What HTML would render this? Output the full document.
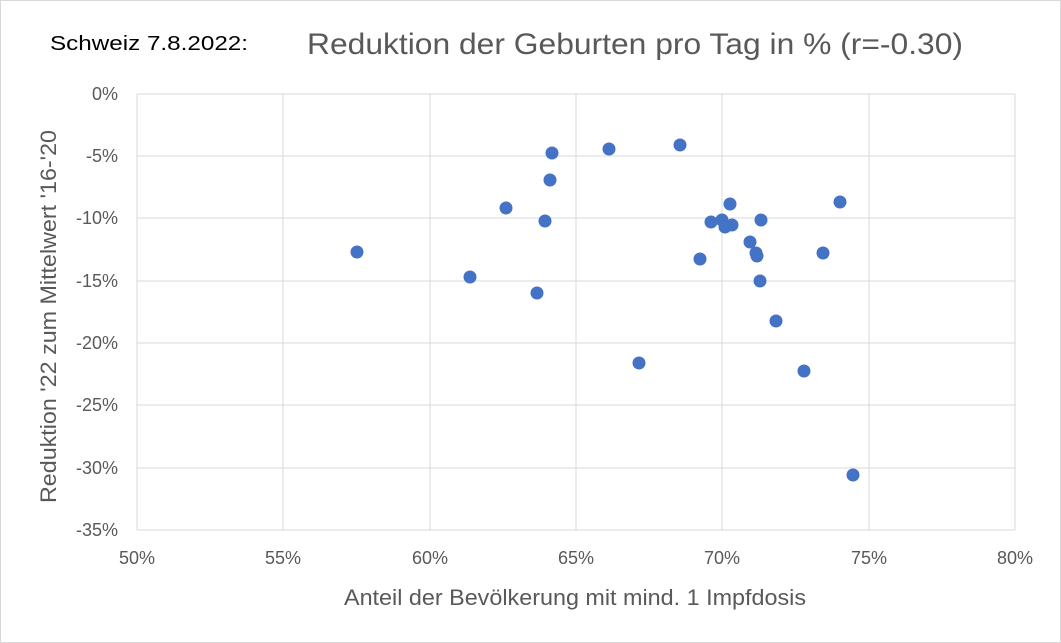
<!DOCTYPE html>
<html><head><meta charset="utf-8"><style>
body{margin:0;background:#fff;}
svg{display:block;font-family:"Liberation Sans",sans-serif;}
</style></head><body>
<svg width="1061" height="643" viewBox="0 0 1061 643">
<rect x="0.5" y="0.5" width="1060" height="642" fill="#fff" stroke="#d9d9d9"/>
<text x="50" y="50" font-size="20" fill="#000" textLength="198" lengthAdjust="spacingAndGlyphs">Schweiz 7.8.2022:</text>
<text x="307" y="54" font-size="30" fill="#595959" textLength="656" lengthAdjust="spacingAndGlyphs">Reduktion der Geburten pro Tag in % (r=-0.30)</text>
<g stroke="#d9d9d9" stroke-width="1">
<line x1="137" y1="94" x2="1015" y2="94"/>
<line x1="137" y1="156" x2="1015" y2="156"/>
<line x1="137" y1="218" x2="1015" y2="218"/>
<line x1="137" y1="281" x2="1015" y2="281"/>
<line x1="137" y1="343" x2="1015" y2="343"/>
<line x1="137" y1="405" x2="1015" y2="405"/>
<line x1="137" y1="468" x2="1015" y2="468"/>
<line x1="137" y1="530" x2="1015" y2="530"/>
<line x1="137" y1="94" x2="137" y2="530"/>
<line x1="283" y1="94" x2="283" y2="530"/>
<line x1="430" y1="94" x2="430" y2="530"/>
<line x1="576" y1="94" x2="576" y2="530"/>
<line x1="722" y1="94" x2="722" y2="530"/>
<line x1="869" y1="94" x2="869" y2="530"/>
<line x1="1015" y1="94" x2="1015" y2="530"/>
</g>
<g font-size="18" fill="#595959" text-anchor="end">
<text x="118" y="100">0%</text>
<text x="118" y="162">-5%</text>
<text x="118" y="224">-10%</text>
<text x="118" y="287">-15%</text>
<text x="118" y="349">-20%</text>
<text x="118" y="411">-25%</text>
<text x="118" y="474">-30%</text>
<text x="118" y="536">-35%</text>
</g>
<g font-size="18" fill="#595959" text-anchor="middle">
<text x="137" y="564">50%</text>
<text x="283" y="564">55%</text>
<text x="430" y="564">60%</text>
<text x="576" y="564">65%</text>
<text x="722" y="564">70%</text>
<text x="869" y="564">75%</text>
<text x="1015" y="564">80%</text>
</g>
<text x="344" y="605" font-size="22" fill="#595959" textLength="462" lengthAdjust="spacingAndGlyphs">Anteil der Bevölkerung mit mind. 1 Impfdosis</text>
<text transform="translate(56,503) rotate(-90)" font-size="22" fill="#595959" textLength="373" lengthAdjust="spacingAndGlyphs">Reduktion '22 zum Mittelwert '16-'20</text>
<g fill="#4472c4">
<circle cx="357" cy="252" r="6.5"/><circle cx="470" cy="277" r="6.5"/><circle cx="506" cy="208" r="6.5"/>
<circle cx="537" cy="293" r="6.5"/><circle cx="545" cy="221" r="6.5"/><circle cx="550" cy="180" r="6.5"/>
<circle cx="552" cy="153" r="6.5"/><circle cx="609" cy="149" r="6.5"/><circle cx="639" cy="363" r="6.5"/>
<circle cx="680" cy="145" r="6.5"/><circle cx="700" cy="259" r="6.5"/><circle cx="711" cy="222" r="6.5"/>
<circle cx="722" cy="220" r="6.5"/><circle cx="725" cy="227" r="6.5"/><circle cx="730" cy="204" r="6.5"/>
<circle cx="732" cy="225" r="6.5"/><circle cx="750" cy="242" r="6.5"/><circle cx="756" cy="253" r="6.5"/>
<circle cx="757" cy="256" r="6.5"/><circle cx="761" cy="220" r="6.5"/><circle cx="760" cy="281" r="6.5"/>
<circle cx="776" cy="321" r="6.5"/><circle cx="804" cy="371" r="6.5"/><circle cx="823" cy="253" r="6.5"/>
<circle cx="840" cy="202" r="6.5"/><circle cx="853" cy="475" r="6.5"/>
</g>
</svg>
</body></html>
